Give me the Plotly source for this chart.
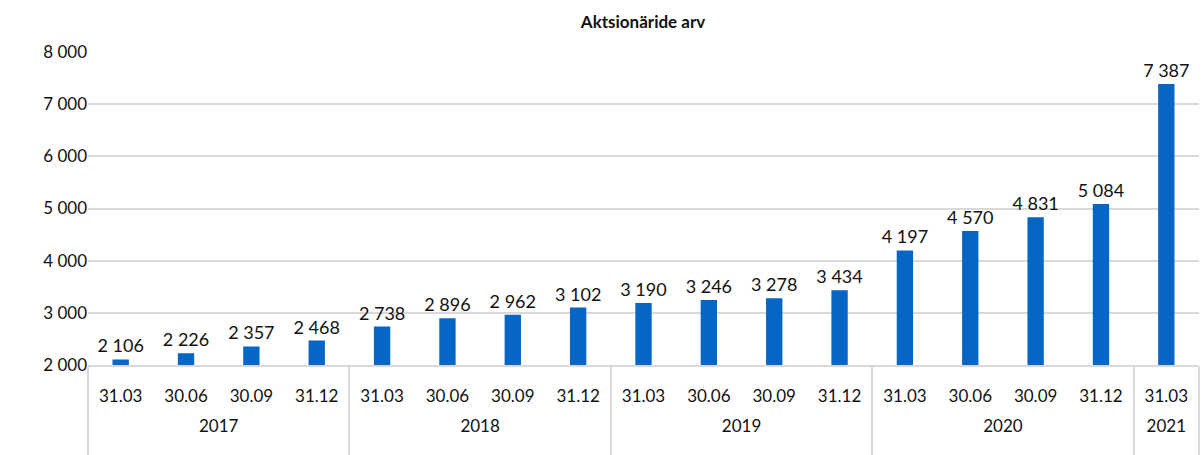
import plotly.graph_objects as go

years = ["2017"]*4 + ["2018"]*4 + ["2019"]*4 + ["2020"]*4 + ["2021"]
dates = ["31.03", "30.06", "30.09", "31.12"]*4 + ["31.03"]
values = [2106, 2226, 2357, 2468, 2738, 2896, 2962, 3102, 3190, 3246, 3278, 3434,
          4197, 4570, 4831, 5084, 7387]
y_ticks = [2000, 3000, 4000, 5000, 6000, 7000, 8000]

FONT = "Lato, Open Sans, sans-serif"

year_lbl = [y + "<br> " for y in years]
date_lbl = [d + "<br> " for d in dates]

fig = go.Figure(go.Bar(
    x=[year_lbl, date_lbl], y=values,
    marker=dict(color="#0566C6", line=dict(width=0)),
    texttemplate="%{y:,d}", textposition="outside", constraintext="none",
    textfont=dict(size=18, color="#111111", family=FONT),
    cliponaxis=False,
))

fig.update_layout(
    width=1202, height=455,
    margin=dict(l=88, r=3, t=52, b=90, autoexpand=False),
    plot_bgcolor="white", paper_bgcolor="white",
    separators=". ",
    bargap=0.75,
    showlegend=False,
    title=dict(text="<b>Aktsionäride arv</b>", x=0.535, xanchor="center", y=0.952, yanchor="middle",
               font=dict(size=17, color="#111111", family=FONT)),
    font=dict(family=FONT, size=17, color="#111111"),
)
fig.update_yaxes(range=[2000, 8000], tickvals=y_ticks, tickformat=",d", automargin=False,
                 showgrid=True, gridcolor="#D9D9D9", gridwidth=1.5,
                 zeroline=False, showline=False, ticks="",
                 tickfont=dict(size=17, color="#111111"))
fig.update_xaxes(type="multicategory", showline=True, linecolor="#D9D9D9", linewidth=1.5,
                 showdividers=True, dividercolor="#D9D9D9", dividerwidth=1.5, automargin=False,
                 ticks="", ticklabelstandoff=15, tickfont=dict(size=17, color="#111111"))

fig.write_html("out.html", config={"displayModeBar": False},
               post_script="document.body.style.margin='0';")
